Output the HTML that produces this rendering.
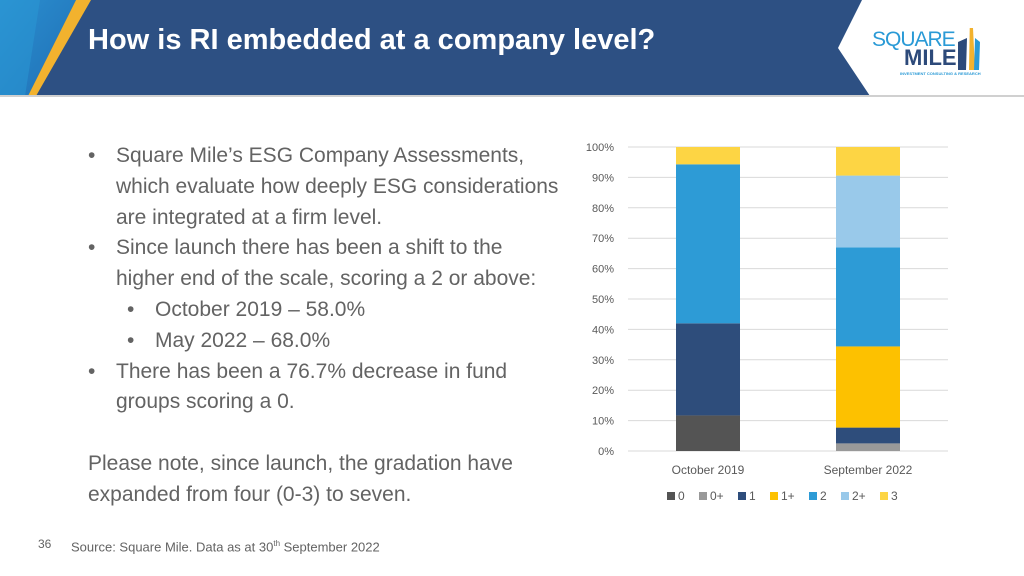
<!DOCTYPE html>
<html><head><meta charset="utf-8"><style>
body{margin:0;width:1024px;height:576px;background:#fff;font-family:"Liberation Sans",sans-serif;position:relative;overflow:hidden}
.t{position:absolute;color:#636363}
ul{margin:0;padding:0;list-style:none}
</style></head><body>
<svg width="1024" height="100" style="position:absolute;left:0;top:0">
<defs><linearGradient id="g" x1="0" y1="0" x2="1" y2="1"><stop offset="0" stop-color="#2b8fd0"/><stop offset="1" stop-color="#1f6fb5"/></linearGradient></defs>
<polygon points="0,0 862,0 838,48 870,96 0,96" fill="#2d5083"/>
<polygon points="0,0 76,0 28,96 0,96" fill="url(#g)"/>
<polygon points="0,0 40,0 25,96 0,96" fill="#2a9ad6" opacity="0.5"/>
<polygon points="76,0 91,0 36,96 28,96" fill="#f2b22e"/>
<rect x="0" y="95" width="1024" height="2" fill="#d0d0d0"/>
</svg>
<div style="position:absolute;left:88px;top:24px;color:#fff;font-size:29px;font-weight:bold">How is RI embedded at a company level?</div>
<div style="position:absolute;left:872px;top:28px;width:120px;height:52px">
<div style="position:absolute;left:0;top:0;color:#2a9ad6;font-size:21px;letter-spacing:-1px">SQUARE</div>
<div style="position:absolute;left:32px;top:17px;color:#2d4a7a;font-size:22px;font-weight:bold">MILE</div>
<div style="position:absolute;left:28px;top:43px;color:#2a9ad6;font-size:4px;font-weight:bold;white-space:nowrap">INVESTMENT CONSULTING &amp; RESEARCH</div>
<svg width="120" height="52" style="position:absolute;left:0;top:0"><polygon points="86,14 95,10 94,42 86,42" fill="#2d4a7a"/><polygon points="98,-16 101,0 103,42 97,42" fill="#f2b22e"/><polygon points="103,10 108,14 107,42 102,42" fill="#2a9ad6"/></svg>
</div>
<div class="t" style="left:88px;top:141px;width:475px;font-size:21px;line-height:30.8px">
<ul>
<li style="padding-left:28px;text-indent:-28px"><span style="display:inline-block;width:28px;text-indent:0">•</span>Square Mile’s ESG Company Assessments, which evaluate how deeply ESG considerations are integrated at a firm level.</li>
<li style="padding-left:28px;text-indent:-28px"><span style="display:inline-block;width:28px;text-indent:0">•</span>Since launch there has been a shift to the higher end of the scale, scoring a 2 or above:</li>
<li style="padding-left:67px;text-indent:-28px"><span style="display:inline-block;width:28px;text-indent:0">•</span>October 2019 – 58.0%</li>
<li style="padding-left:67px;text-indent:-28px"><span style="display:inline-block;width:28px;text-indent:0">•</span>May 2022 – 68.0%</li>
<li style="padding-left:28px;text-indent:-28px"><span style="display:inline-block;width:28px;text-indent:0">•</span>There has been a 76.7% decrease in fund groups scoring a 0.</li>
<li>&nbsp;</li>
<li>Please note, since launch, the gradation have expanded from four (0-3) to seven.</li>
</ul></div>
<div class="t" style="left:38px;top:537px;font-size:12px">36</div>
<div class="t" style="left:71px;top:539px;font-size:13px">Source: Square Mile. Data as at 30<sup style="font-size:8px">th</sup> September 2022</div>
<svg id="chart" width="1024" height="576" style="position:absolute;left:0;top:0;font-family:'Liberation Sans',sans-serif"></svg>
<script>
const categories=["October 2019","September 2022"];
const seriesNames=["0","0+","1","1+","2","2+","3"];
const s0=[11.7,0];
const s0p=[0,2.5];
const s1=[30.3,5.2];
const s1p=[0,26.7];
const s2=[52.3,32.6];
const s2p=[0,23.6];
const s3=[5.7,9.4];
const yTicks=[0,10,20,30,40,50,60,70,80,90,100];
const series=[s0,s0p,s1,s1p,s2,s2p,s3];
const colors=["#545454","#999999","#2e4d7b","#fdc100","#2d9bd6","#99c9ea","#fdd544"];
const svg=document.getElementById('chart');const NS="http://www.w3.org/2000/svg";
const y=v=>451-v*3.04;const x0=628,x1=948;const bw=64;
const cx=i=>x0+(i+0.5)*(x1-x0)/categories.length;
function mk(t,a,txt){const e=document.createElementNS(NS,t);for(const k in a)e.setAttribute(k,a[k]);if(txt!==undefined)e.textContent=txt;svg.appendChild(e);return e;}
yTicks.forEach(v=>{const l=mk('line',{x1:x0,x2:x1,y1:y(v),y2:y(v),stroke:'#d9d9d9','stroke-width':1});


const t=mk('text',{x:614,y:y(v)+4,'text-anchor':'end','font-size':11,fill:'#595959'},v+'%');

});
categories.forEach((c,i)=>{let acc=0;series.forEach((s,j)=>{const v=s[i];if(v>0){const r=mk('rect',{x:cx(i)-bw/2,y:y(acc+v),width:bw,height:v*3.04,fill:colors[j]});

}acc+=v;});
const t=mk('text',{x:cx(i),y:474,'text-anchor':'middle','font-size':12,fill:'#595959'},c);

});
let lx=667;seriesNames.forEach((n,j)=>{const r=mk('rect',{x:lx,y:492,width:8,height:8,fill:colors[j]});


const t=mk('text',{x:lx+11,y:500,'font-size':12,fill:'#595959'},n);


lx+=11+n.length*7+14;});
</script>
</body></html>
